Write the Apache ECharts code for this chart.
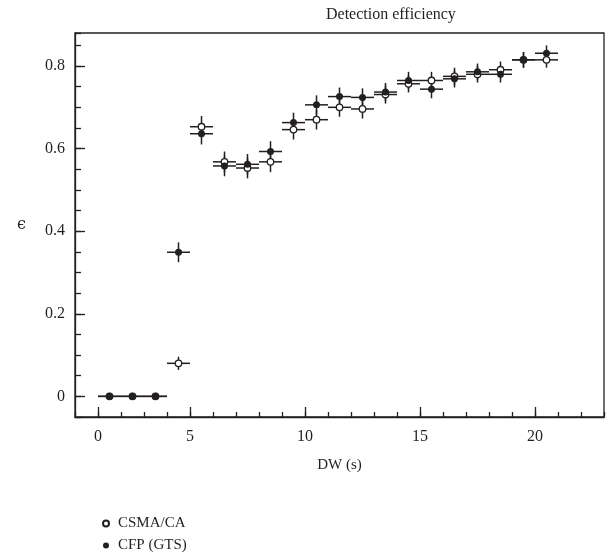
<!DOCTYPE html>
<html>
<head>
<meta charset="utf-8">
<script src="https://cdn.jsdelivr.net/npm/echarts@6/dist/echarts.min.js"></script>
<style>html,body{margin:0;padding:0;background:#fff}#c{width:608px;height:560px}</style>
</head>
<body>
<div id="c"></div>
<script>
// Bin centres (DW, s) and half-widths
var dw = [1.5, 2.5, 3.5, 4.5, 5.5, 6.5, 7.5, 8.5, 9.5, 10.5, 11.5, 12.5, 13.5, 14.5, 15.5, 16.5, 17.5, 18.5, 19.5, 20.5];
var dwHalf = [0.5, 0.5, 0.5, 0.5, 0.5, 0.5, 0.5, 0.5, 0.5, 0.5, 0.5, 0.5, 0.5, 0.5, 0.5, 0.5, 0.5, 0.5, 0.5, 0.5];
// Efficiency values
var csma = [0, 0, 0, 0.080, 0.653, 0.568, 0.553, 0.568, 0.646, 0.670, 0.700, 0.696, 0.731, 0.757, 0.765, 0.775, 0.780, 0.791, 0.815, 0.815];
var csmaErr = [0, 0, 0, 0.016, 0.026, 0.025, 0.025, 0.025, 0.024, 0.024, 0.023, 0.023, 0.022, 0.021, 0.021, 0.021, 0.020, 0.020, 0.019, 0.019];
var cfp = [0, 0, 0, 0.349, 0.636, 0.558, 0.562, 0.593, 0.663, 0.706, 0.726, 0.724, 0.737, 0.765, 0.744, 0.769, 0.786, 0.780, 0.815, 0.831];
var cfpErr = [0, 0, 0, 0.024, 0.026, 0.025, 0.025, 0.025, 0.024, 0.023, 0.022, 0.022, 0.022, 0.021, 0.022, 0.021, 0.020, 0.020, 0.019, 0.019];
// Tick labels
var xLabelTicks = [1, 5, 10, 15, 20];
var xLabelText = ['0', '5', '10', '15', '20'];
var yLabelTicks = [0, 0.2, 0.4, 0.6, 0.8];
var yLabelText = ['0', '0.2', '0.4', '0.6', '0.8'];
var names = ['CSMA/CA', 'CFP (GTS)'];

var FONT = 'Liberation Serif';
var INK = '#231f20';

function errData(ys, es) {
  return dw.map(function (x, i) { return [x, ys[i], dwHalf[i], es[i]]; });
}
function ptData(ys) {
  return dw.map(function (x, i) { return [x, ys[i]]; });
}
function renderErr(params, api) {
  var x = api.value(0), y = api.value(1), xe = api.value(2), ye = api.value(3);
  var l = api.coord([x - xe, y]), r = api.coord([x + xe, y]);
  var t = api.coord([x, y + ye]), b = api.coord([x, y - ye]);
  var st = { stroke: INK, lineWidth: 1.5 };
  var children = [{ type: 'line', shape: { x1: l[0], y1: l[1], x2: r[0], y2: r[1] }, style: st }];
  if (ye > 0) children.push({ type: 'line', shape: { x1: t[0], y1: t[1], x2: b[0], y2: b[1] }, style: st });
  return { type: 'group', children: children };
}

var chart = echarts.init(document.getElementById('c'), null, { renderer: 'canvas' });
var axisBase = { min: 0, max: 23, gridIndex: 0, position: 'bottom' };
chart.setOption({
  animation: false,
  textStyle: { fontFamily: FONT, color: INK },
  title: {
    text: 'Detection efficiency', left: 321, top: 2,
    textStyle: { fontFamily: FONT, fontSize: 16, fontWeight: 'normal', color: INK }
  },
  legend: {
    data: names, orient: 'vertical', left: 97, top: 511,
    itemWidth: 14, itemHeight: 6, itemGap: 7,
    textStyle: { fontFamily: FONT, fontSize: 15, color: INK }
  },
  grid: { left: 75, right: 4, top: 33, bottom: 143, show: true, borderColor: INK, borderWidth: 1.3 },
  xAxis: [
    Object.assign({}, axisBase, {
      type: 'value', interval: 1,
      name: 'DW (s)', nameLocation: 'middle', nameGap: 41,
      nameTextStyle: { fontFamily: FONT, fontSize: 15, color: INK },
      axisLine: { onZero: false, lineStyle: { color: INK, width: 1.3 } },
      axisTick: { inside: true, length: 5, lineStyle: { color: INK, width: 1.3 } },
      axisLabel: {
        customValues: xLabelTicks, margin: 12, fontFamily: FONT, fontSize: 16, color: INK,
        formatter: function (v) { var i = xLabelTicks.indexOf(v); return i >= 0 ? xLabelText[i] : ''; }
      },
      splitLine: { show: false }
    }),
    Object.assign({}, axisBase, {
      type: 'value', interval: 1,
      axisLine: { show: false, onZero: false },
      axisTick: { inside: true, length: 10, customValues: xLabelTicks, lineStyle: { color: INK, width: 1.3 } },
      axisLabel: { show: false },
      splitLine: { show: false }
    })
  ],
  yAxis: [
    {
      type: 'value', min: -0.05, max: 0.88, interval: 0.05, gridIndex: 0, position: 'left',
      name: 'ϵ', nameLocation: 'middle', nameGap: 49, nameRotate: 0,
      nameTextStyle: { fontFamily: 'DejaVu Serif', fontSize: 16, color: INK },
      axisLine: { onZero: false, lineStyle: { color: INK, width: 1.3 } },
      axisTick: { inside: true, length: 6, lineStyle: { color: INK, width: 1.3 } },
      axisLabel: {
        customValues: yLabelTicks, margin: 10, fontFamily: FONT, fontSize: 16, color: INK,
        formatter: function (v) {
          for (var i = 0; i < yLabelTicks.length; i++) if (Math.abs(yLabelTicks[i] - v) < 1e-6) return yLabelText[i];
          return '';
        }
      },
      splitLine: { show: false }
    },
    {
      type: 'value', min: -0.05, max: 0.88, interval: 0.05, gridIndex: 0, position: 'left',
      axisLine: { show: false, onZero: false },
      axisTick: { inside: true, length: 10, customValues: yLabelTicks, lineStyle: { color: INK, width: 1.3 } },
      axisLabel: { show: false },
      splitLine: { show: false }
    }
  ],
  series: [
    { type: 'custom', name: 'errCSMA', renderItem: renderErr, data: errData(csma, csmaErr), encode: { x: 0, y: 1 }, z: 1, silent: true },
    { type: 'custom', name: 'errCFP', renderItem: renderErr, data: errData(cfp, cfpErr), encode: { x: 0, y: 1 }, z: 1, silent: true },
    {
      type: 'scatter', name: names[0], data: ptData(csma), symbol: 'circle', symbolSize: 6.5, z: 3,
      itemStyle: { color: '#ffffff', borderColor: INK, borderWidth: 1.3, opacity: 1 }
    },
    {
      type: 'scatter', name: names[1], data: ptData(cfp), symbol: 'circle', symbolSize: 7, z: 4,
      itemStyle: { color: INK, borderColor: INK, borderWidth: 0, opacity: 1 }
    }
  ]
});
</script>
</body>
</html>
